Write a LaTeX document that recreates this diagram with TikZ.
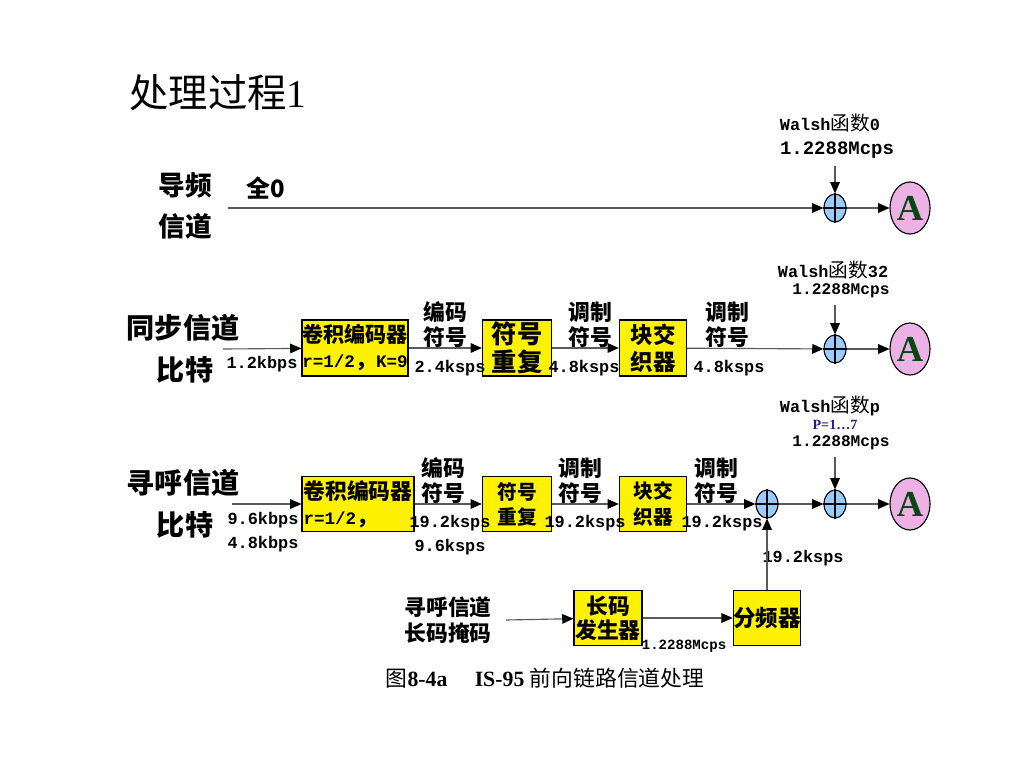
\documentclass[tikz,border=0pt]{standalone}
\usepackage{fontspec}
\setmainfont{Liberation Serif}
\newfontfamily\cjk{Noto Sans CJK SC}
\newfontfamily\mono{Liberation Mono}
\usetikzlibrary{shapes.geometric,arrows.meta}
\definecolor{sumblue}{RGB}{153,204,255}
\definecolor{apink}{RGB}{236,178,230}
\definecolor{agreen}{RGB}{10,70,20}
\definecolor{pblue}{RGB}{30,30,150}
\definecolor{wiregray}{RGB}{90,90,90}
\newcommand{\mtxt}[1]{{\mono\fontsize{12.5}{17.8}\selectfont #1}}
\newcommand{\hanshu}{{\cjk\mdseries\fontsize{14}{14}\selectfont 函数}}
\tikzset{
  box/.style = {draw, fill = yellow, line width = 0.8pt, inner sep = 0pt, align = center, minimum height = 1.4cm},
  sum/.style = {ellipse, draw, fill = sumblue, line width = 0.8pt, minimum width = 0.55cm, minimum height = 0.7cm, inner sep = 0pt},
  dest/.style = {ellipse, draw, fill = apink, line width = 0.8pt, minimum width = 1cm, minimum height = 1.3cm, inner sep = 0pt, text = agreen, font = \bfseries\fontsize{26}{26}\selectfont},
  wire/.style = {draw = wiregray, line width = 0.8pt, -{Triangle[length = 2.8mm, width = 2.4mm, color = black]}},
  side/.style = {inner sep = 0pt, font = \cjk\bfseries\fontsize{20}{30}\selectfont},
  sym/.style = {align = center, inner sep = 0pt, font = \cjk\bfseries\fontsize{15.5}{17.8}\selectfont},
  rate/.style = {align = center, inner sep = 0pt, font = \mono\bfseries\fontsize{12}{17}\selectfont}
}
\begin{document}
\begin{tikzpicture}[x = 0.025cm, y = -0.025cm]
\useasboundingbox [fill = white] (0,0) rectangle (1024,768);
\node (title) at (218,93) {\fontsize{28}{28}\selectfont{\cjk 处理过程}1};

% pilot
\node [side, font = \cjk\bfseries\fontsize{19}{19}\selectfont] (pilot) at (185,185) {导频};
\node [side, font = \cjk\bfseries\fontsize{19}{19}\selectfont] (pilot2) at (185,226) {信道};
\node [side, font = \cjk\bfseries\fontsize{17}{17}\selectfont] (zero) at (266,188) {全0};
\coordinate (in1) at (228,208);
\node [sum] (s1) at (835,208) {};
\node [dest] (a1) at (910,208) {A};
\node [rate] (w0) at (830,123) {Walsh\hanshu 0};
\node [rate, font = \mono\bfseries\fontsize{13.5}{14}\selectfont] (w0r) at (837,150) {1.2288Mcps};
\coordinate (w0c) at ([yshift = -5] s1.north |- w0r.south);
\draw [wire] (in1) -- (s1);
\draw [wire] (s1) -- (a1);
\draw [wire] (w0c) -- (s1);

% sync
\node [side] (sync) at (183,328) {同步信道};
\node [side] (sync2) at (185,370) {比特};
\coordinate (in2) at (223,349);
\node [box, minimum width = 2.65cm, font = \cjk\bfseries\fontsize{15}{17.8}\selectfont] (b21) at (355,348)
  {卷积编码器\\\mtxt{r=1/2}，\mtxt{K=9}};
\node [box, minimum width = 1.73cm, font = \cjk\bfseries\fontsize{18}{20}\selectfont] (b22) at (517,348) {符号\\重复};
\node [box, minimum width = 1.68cm, font = \cjk\bfseries\fontsize{16}{19.5}\selectfont] (b23) at (653,348) {块交\\织器};
\node [sum] (s2) at (835,349) {};
\node [dest] (a2) at (910,349) {A};
\node [rate] at (262,364) {1.2kbps};
\node [sym] at (445,325) {编码\\符号};
\node [rate] at (450,368) {2.4ksps};
\node [sym] at (590,325) {调制\\符号};
\node [rate] at (584,368) {4.8ksps};
\node [sym] at (727,325) {调制\\符号};
\node [rate] at (729,368) {4.8ksps};
\node [rate] (w32) at (833,270) {Walsh\hanshu 32};
\node [rate, font = \mono\bfseries\fontsize{11.5}{12}\selectfont] (w32r) at (841,291) {1.2288Mcps};
\coordinate (w32c) at ([yshift = -5] s2.north |- w32r.south);
\draw [wire] (in2) -- (b21);
\draw [wire] (b21) -- (b22);
\draw [wire] (b22) -- (b23);
\draw [wire] (b23) -- (s2);
\draw [wire] (s2) -- (a2);
\draw [wire] (w32c) -- (s2);

% paging
\node [side] (page) at (183,483) {寻呼信道};
\node [side] (page2) at (185,525) {比特};
\coordinate (in3) at (232,504);
\node [box, minimum width = 2.8cm, minimum height = 1.38cm, align = left, font = \cjk\bfseries\fontsize{15.5}{17.8}\selectfont] (b31) at (358,504)
  {卷积编码器\\\mtxt{r=1/2}，};
\node [box, minimum width = 1.73cm, minimum height = 1.38cm, font = \cjk\bfseries\fontsize{14}{17.8}\selectfont] (b32) at (517,504) {符号\\重复};
\node [box, minimum width = 1.68cm, minimum height = 1.38cm, font = \cjk\bfseries\fontsize{14}{18}\selectfont] (b33) at (653,504) {块交\\织器};
\node [sum] (s3) at (767,504) {};
\node [sum] (s4) at (835,504) {};
\node [dest] (a3) at (910,504) {A};
\node [rate] at (263,532) {9.6kbps\\4.8kbps};
\node [sym] at (443,481) {编码\\符号};
\node [rate] at (450,535) {19.2ksps\\9.6ksps};
\node [sym] at (580,481) {调制\\符号};
\node [rate] at (585,523) {19.2ksps};
\node [sym] at (716,481) {调制\\符号};
\node [rate] at (722,523) {19.2ksps};
\node [rate] (wp) at (830,406) {Walsh\hanshu p};
\node [text = pblue, inner sep = 0pt, font = \bfseries\fontsize{10}{10}\selectfont] (pr) at (835,425) {P=1…7};
\node [rate, font = \mono\bfseries\fontsize{11.5}{12}\selectfont] (wpr) at (841,443) {1.2288Mcps};
\coordinate (wpc) at ([yshift = -5] s4.north |- wpr.south);
\draw [wire] (in3) -- (b31);
\draw [wire] (b31) -- (b32);
\draw [wire] (b32) -- (b33);
\draw [wire] (b33) -- (s3);
\draw [wire] (s3) -- (s4);
\draw [wire] (s4) -- (a3);
\draw [wire] (wpc) -- (s4);

% long code
\node [sym, font = \cjk\bfseries\fontsize{15.5}{18.5}\selectfont] (mask) at (448,620) {寻呼信道\\长码掩码};
\coordinate (in4) at (506,620);
\node [box, minimum width = 1.7cm, minimum height = 1.38cm, font = \cjk\bfseries\fontsize{15.5}{17}\selectfont] (b41) at (608,618) {长码\\发生器};
\node [box, minimum width = 1.68cm, minimum height = 1.38cm, font = \cjk\bfseries\fontsize{16}{17}\selectfont] (b42) at (767,618) {分频器};
\node [rate, font = \mono\bfseries\fontsize{10}{10}\selectfont] at (684,646) {1.2288Mcps};
\node [rate] at (803,558) {19.2ksps};
\draw [wire] (in4) -- (b41);
\draw [wire] (b41) -- (b42);
\draw [wire] (b42) -- (s3);

\foreach \s in {s1,s2,s3,s4}
\draw [line width = 0.8pt] (\s.north) -- (\s.south) (\s.west) -- (\s.east);

\node (cap) at (545,678) {\fontsize{15.5}{16}\selectfont{\cjk 图}\textbf{8-4a}\quad\ \textbf{IS-95} {\cjk 前向链路信道处理}};
\end{tikzpicture}
\end{document}
